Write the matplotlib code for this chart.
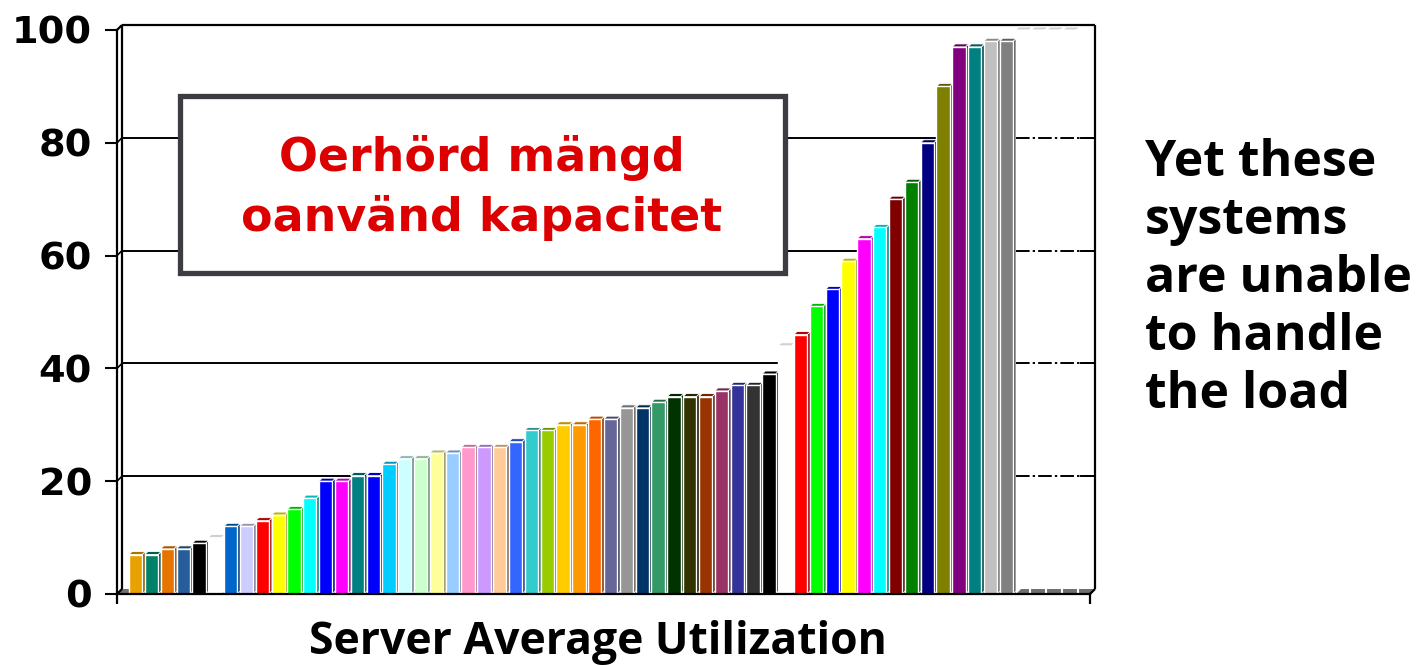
import matplotlib
matplotlib.use("Agg")
import matplotlib.pyplot as plt
import matplotlib.patches as mpatches
from matplotlib.collections import PolyCollection
from matplotlib.colors import to_rgb
import numpy as np

# ---------------- data ----------------
values = [7, 7, 8, 8, 9, 10, 12, 12, 13, 14, 15, 17, 20, 20, 21, 21,
          23, 24, 24, 25, 25, 26, 26, 26, 27, 29, 29, 30, 30, 31, 31,
          33, 33, 34, 35, 35, 35, 36, 37, 37, 39, 44,
          46, 51, 54, 59, 63, 65, 70, 73, 80, 90, 97, 97, 98, 98,
          100, 100, 100, 100]
colors = ['#E8A200', '#00826A', '#E67300', '#255E9A', '#000000', '#FFFFFF',
          '#0066CC', '#CCCCFF', '#FF0000', '#FFFF00', '#00FF00', '#00FFFF',
          '#0000FF', '#FF00FF', '#008080', '#0000FF',
          '#00CCFF', '#CCFFFF', '#CCFFCC', '#FFFF99', '#99CCFF',
          '#FF99CC', '#CC99FF', '#FFCC99', '#3366FF',
          '#33CCCC', '#99CC00', '#FFCC00', '#FF9900', '#FF6600', '#666699',
          '#969696', '#003366', '#339966',
          '#003300', '#333300', '#993300',
          '#993366', '#333399', '#333333', '#000000',
          '#FFFFFF',
          '#FF0000', '#00FF00', '#0000FF', '#FFFF00', '#FF00FF', '#00FFFF',
          '#800000', '#008000', '#000080', '#808000',
          '#800080', '#008080', '#C0C0C0', '#808080',
          '#FFFFFF', '#FFFFFF', '#FFFFFF', '#FFFFFF']
yticks = [0, 20, 40, 60, 80, 100]
xlabel = "Server Average Utilization"
box_text = "Oerhörd mängd\noanvänd kapacitet"
side_text = "Yet these\nsystems\nare unable\nto handle\nthe load"

# ---------------- figure ----------------
W, H = 1418, 665
fig = plt.figure(figsize=(W / 100, H / 100), dpi=100)
fig.patch.set_facecolor('white')

ax_l, ax_r, ax_b, ax_t = 117, 1090, 594, 30   # pixel frame of the front plane
ax = fig.add_axes([ax_l / W, 1 - ax_b / H, (ax_r - ax_l) / W, (ax_b - ax_t) / H])
ax.set_facecolor('none')

n = len(values)
x = np.arange(n)
xl, xr = -1.18, 60.28
ax.set_xlim(xl, xr)
ax.set_ylim(0, 100)

px_x = (ax_r - ax_l) / (xr - xl)   # pixels per x unit
px_y = (ax_b - ax_t) / 100.0       # pixels per y unit
dxb, dyb = 5 / px_x, 5 / px_y      # back wall offset
dxd, dyd = 3 / px_x, 3 / px_y      # bar depth offset
w = 0.84

frame_kw = dict(color='black', lw=1.6, clip_on=False, solid_capstyle='butt')

def is_white(c):
    return c.upper() == '#FFFFFF'

last_col = max(i for i, c in enumerate(colors) if not is_white(c))

# floor strip (visible under the white columns on the right)
floor = mpatches.Polygon([[xl, 0], [xr, 0], [xr + dxb, dyb], [xl + dxb, dyb]],
                         closed=True, facecolor='#6f6f6f', edgecolor='none',
                         clip_on=False, zorder=0.5)
ax.add_patch(floor)
fx0 = last_col + w / 2 + dxd
floor_r = mpatches.Polygon([[fx0, 0], [xr, 0], [xr + dxb, dyb], [fx0 + dxb, dyb]],
                           closed=True, facecolor='#6f6f6f', edgecolor='none',
                           clip_on=False, zorder=3.4)
ax.add_patch(floor_r)
for xi in x[last_col + 1:]:
    ax.plot([xi + w / 2 + dxd * 0.5] * 2, [0, dyb], color='white', lw=1.5,
            clip_on=False, zorder=3.45)

# back wall gridlines
for v in yticks[1:-1]:
    ax.plot([xl + dxb, xr + dxb], [v + dyb, v + dyb], color='black', lw=1.4,
            clip_on=False, zorder=1)
    ax.plot([xl, xl + dxb], [v, v + dyb], color='black', lw=1.2, clip_on=False, zorder=1)
    # dash-dot look through the white columns on the right
    ax.plot([fx0, xr + dxb], [v + dyb, v + dyb], color='black',
            lw=1.4, clip_on=False, zorder=3.5, dashes=(7.0, 1.6, 1.2, 1.6))

# back wall frame
ax.plot([xl + dxb, xl + dxb], [dyb, 100 + dyb], **frame_kw, zorder=1)
ax.plot([xl + dxb, xr + dxb], [100 + dyb, 100 + dyb], **frame_kw, zorder=1)
ax.plot([xr + dxb, xr + dxb], [dyb, 100 + dyb], **frame_kw, zorder=3.6)
ax.plot([xl, xl + dxb], [100, 100 + dyb], **frame_kw, zorder=1)
ax.plot([xr, xr + dxb], [0, dyb], **frame_kw, zorder=3.6)
ax.plot([xl, xl + dxb], [0, dyb], **frame_kw, zorder=1)

# columns: side faces, top faces, front faces
def shade(c, f):
    r, g, b = to_rgb(c)
    return (r * f, g * f, b * f)

sides, tops, side_c, top_c = [], [], [], []
for xi, v, c in zip(x, values, colors):
    x0, x1 = xi - w / 2, xi + w / 2
    sides.append([[x1, 0], [x1 + dxd, dyd], [x1 + dxd, v + dyd], [x1, v]])
    tops.append([[x0, v], [x1, v], [x1 + dxd, v + dyd], [x0 + dxd, v + dyd]])
    side_c.append('white' if is_white(c) else shade(c, 0.55))
    top_c.append((0.82, 0.82, 0.82) if is_white(c) else shade(c, 0.72))
ax.add_collection(PolyCollection(sides, facecolors=side_c, edgecolors='white',
                                 linewidths=0.6, zorder=2, clip_on=False))
ax.add_collection(PolyCollection(tops, facecolors=top_c, edgecolors='white',
                                 linewidths=0.6, zorder=2, clip_on=False))
ax.bar(x, values, width=w, color=colors, edgecolor='white', linewidth=1.0,
       zorder=3, clip_on=False)

# axes / spines
for s in ['top', 'right']:
    ax.spines[s].set_visible(False)
ax.spines['left'].set_linewidth(1.6)
ax.spines['bottom'].set_linewidth(1.6)
ax.spines['left'].set_zorder(4)
ax.spines['bottom'].set_zorder(4)
ax.set_yticks(yticks)
ax.set_yticklabels([str(t) for t in yticks], fontfamily='DejaVu Sans',
                   fontweight='bold', fontsize=27.5)
ax.tick_params(axis='y', direction='out', length=9, width=1.5, pad=9)
ax.set_xticks([xl, xr])
ax.set_xticklabels(['', ''])
ax.tick_params(axis='x', direction='out', length=7, width=1.6)
ax.set_xlabel(xlabel, fontfamily='Open Sans', fontweight='bold', fontsize=32)
ax.xaxis.label.set_va('baseline')
ax.xaxis.set_label_coords((597.5 - ax_l) / (ax_r - ax_l), -(654 - ax_b) / (ax_b - ax_t))

# annotation box
bx0, bx1, by0, by1 = 179.5, 784.5, 95.5, 272.5
rect = mpatches.Rectangle((bx0 / W, 1 - by1 / H), (bx1 - bx0) / W, (by1 - by0) / H,
                          transform=fig.transFigure, facecolor='white',
                          edgecolor='#3C3C42', linewidth=3.8, zorder=5)
fig.patches.append(rect)
fig.text((bx0 + bx1) / 2 / W, 1 - 188 / H, box_text, color='#DD0000',
         fontfamily='DejaVu Sans', fontweight='bold', fontsize=33,
         ha='center', va='center', linespacing=1.38, zorder=6)

# side text
fig.text(1145 / W, 1 - 138 / H, side_text, color='black', fontfamily='Open Sans',
         fontweight='bold', fontsize=36, ha='left', va='top', linespacing=1.21)

fig.savefig('out.png', dpi=100, facecolor='white')
